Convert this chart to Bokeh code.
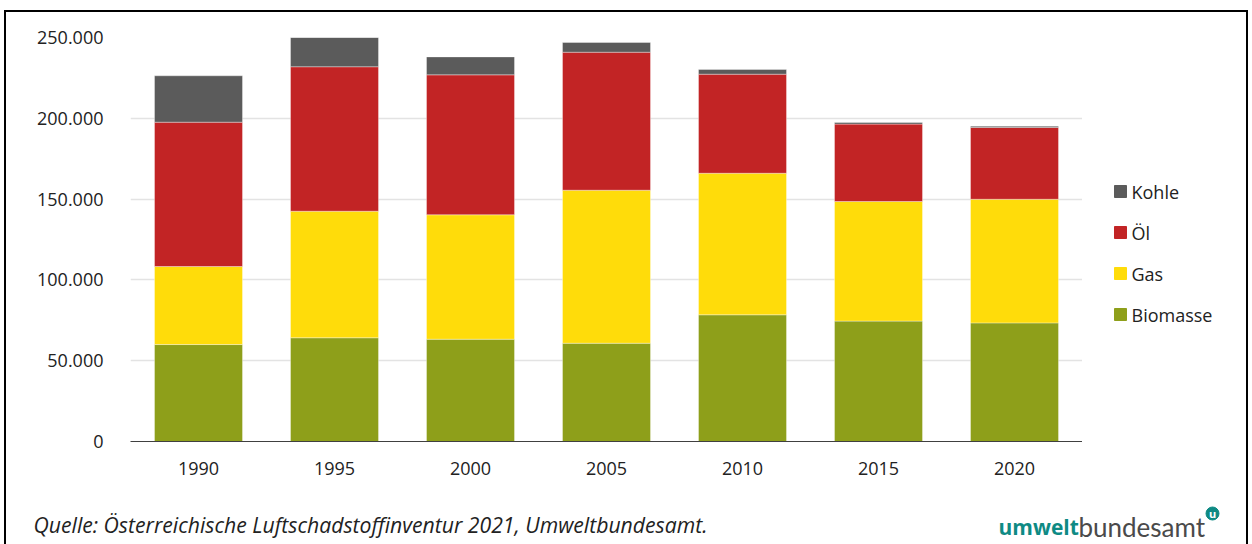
from bokeh.plotting import figure
from bokeh.layouts import column, row
from bokeh.models import (ColumnDataSource, FactorRange, Range1d, FixedTicker,
                          Label)
from bokeh.core.properties import value
from bokeh.embed import file_html
from bokeh.resources import INLINE

# ---- data ----
years = ["1990", "1995", "2000", "2005", "2010", "2015", "2020"]
biomasse = [60000, 64200, 63300, 60800, 78400, 74500, 73400]
gas = [48300, 78300, 77000, 94700, 87600, 74000, 76500]
oel = [89300, 89400, 86600, 85400, 61300, 47900, 44400]
kohle = [28700, 18100, 11100, 6000, 2900, 1000, 800]
series_names = ["Biomasse", "Gas", "Öl", "Kohle"]
series_colors = ["#8e9f1a", "#ffdc0a", "#c22425", "#5b5b5b"]
y_ticks = [0, 50000, 100000, 150000, 200000, 250000]
y_tick_labels = ["0", "50.000", "100.000", "150.000", "200.000", "250.000"]
caption = "Quelle: Österreichische Luftschadstoffinventur 2021, Umweltbundesamt."

FONT = "Open Sans"
W = 1240
H1 = 478
LW = 164

source = ColumnDataSource(dict(year=years, Biomasse=biomasse, Gas=gas,
                               **{"Öl": oel}, Kohle=kohle))

p = figure(x_range=FactorRange(*years, range_padding=0),
           y_range=Range1d(0, 250000),
           width=W - LW, height=H1, output_backend="svg",
           toolbar_location=None,
           min_border_left=124, min_border_right=0,
           min_border_top=25, min_border_bottom=49)
p.frame_align = False

rs = p.vbar_stack(series_names, x="year", width=0.647, source=source,
                  color=series_colors, line_color="white", line_alpha=0.35,
                  line_width=1)

p.outline_line_color = None
p.xgrid.grid_line_color = None
p.ygrid.grid_line_color = "#e3e3e3"
p.ygrid.grid_line_width = 1.5
p.ygrid.ticker = FixedTicker(ticks=y_ticks)

p.yaxis.ticker = FixedTicker(ticks=y_ticks)
p.yaxis.major_label_overrides = dict(zip(y_ticks, y_tick_labels))
p.yaxis.axis_line_color = None
p.yaxis.major_tick_line_color = None
p.yaxis.minor_tick_line_color = None
p.yaxis.major_tick_out = 0
p.yaxis.major_tick_in = 0
p.yaxis.major_label_standoff = 27

p.xaxis.axis_line_color = "#404040"
p.xaxis.axis_line_width = 1
p.xaxis.major_tick_line_color = None
p.xaxis.major_tick_out = 0
p.xaxis.major_tick_in = 0
p.xaxis.major_label_standoff = 20

for ax in (p.xaxis[0], p.yaxis[0]):
    ax.major_label_text_font = FONT
    ax.major_label_text_font_size = "18px"
    ax.major_label_text_color = "#222222"

# ---- legend panel (top item = last series) ----
lg = figure(x_range=Range1d(0, LW), y_range=Range1d(0, H1), width=LW,
            height=H1, output_backend="svg", toolbar_location=None,
            min_border=0, min_border_left=0, min_border_right=0,
            min_border_top=0, min_border_bottom=0)
lg.frame_align = False
lg.axis.visible = False
lg.grid.visible = False
lg.outline_line_color = None
leg_names = list(reversed(series_names))
leg_colors = list(reversed(series_colors))
leg_y = [H1 - 179 - 41 * i for i in range(len(leg_names))]
lg.scatter(x=[38] * len(leg_names), y=leg_y, marker="square", size=12,
           color=leg_colors)
lg.text(x=[49] * len(leg_names), y=leg_y, text=leg_names,
        text_font=value(FONT), text_font_size="18px", text_color="#222222",
        text_baseline="middle")

# ---- footer: source line and logo ----
H2 = 54
f = figure(x_range=Range1d(0, W), y_range=Range1d(0, H2), width=W, height=H2,
           output_backend="svg", toolbar_location=None,
           min_border=0, min_border_left=0, min_border_right=0,
           min_border_top=0, min_border_bottom=0)
f.frame_align = False
f.axis.visible = False
f.grid.visible = False
f.outline_line_color = None

f.add_layout(Label(x=27, y=20, text=caption, text_font=FONT,
                   text_font_size="21.2px", text_font_style="italic",
                   text_color="#222222", text_baseline="middle"))
f.add_layout(Label(x=992, y=18, text="umwelt", text_font=FONT,
                   text_font_size="21px", text_font_style="bold",
                   text_color="#0e8a84", text_baseline="alphabetic"))
f.add_layout(Label(x=1072, y=18, text="bundesamt", text_font="Lato",
                   text_font_size="26px", text_color="#4a4a4a",
                   text_baseline="alphabetic"))
f.scatter(x=[1206], y=[31], size=13, marker="circle", color="#0e8a84")
f.add_layout(Label(x=1206, y=31, text="u", text_font=FONT,
                   text_font_size="11px", text_font_style="bold",
                   text_color="white", text_align="center",
                   text_baseline="middle"))

layout = column(row(p, lg, spacing=0), f, spacing=0,
                styles={"border-top": "2px solid black",
                        "border-left": "2px solid black",
                        "border-right": "2px solid black",
                        "margin-left": "4px", "margin-top": "10px"})

open("out.html", "w").write(file_html(layout, INLINE))
